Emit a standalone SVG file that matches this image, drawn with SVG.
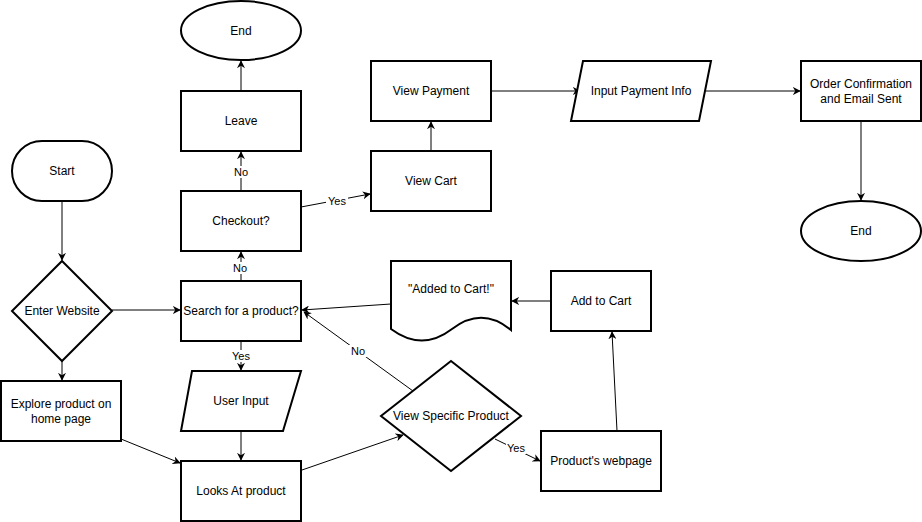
<svg xmlns="http://www.w3.org/2000/svg" width="922" height="522" viewBox="0 0 922 522">
<defs>
<style>
.n{fill:#fff;stroke:#000;stroke-width:2}
.t{font-family:"Liberation Sans",Arial,sans-serif;font-size:12px;fill:#000;text-anchor:middle;dominant-baseline:central}
.e{fill:none;stroke:#000;stroke-width:1;marker-end:url(#a)}
.lb{font-family:"Liberation Sans",Arial,sans-serif;font-size:11px;fill:#000;text-anchor:middle;dominant-baseline:central}
.bg{fill:#fff}
</style>
<marker id="a" viewBox="0 0 10 10" refX="9" refY="5" markerWidth="8" markerHeight="8" markerUnits="userSpaceOnUse" orient="auto">
<path d="M0,0 L10,5 L0,10 L3,5 Z" fill="#000"/>
</marker>
</defs>
<rect width="922" height="522" fill="#fff"/>
<g id="connectors">
<path class="e" d="M62,201 V260"/>
<path class="e" d="M112,310 H180"/>
<path class="e" d="M62,361 V380"/>
<path class="e" d="M121,439 L180,463"/>
<path class="e" d="M241,281 V252"/>
<path class="e" d="M241,191 V152"/>
<path class="e" d="M241,91 V61"/>
<path class="e" d="M301,207 L370,194"/>
<path class="e" d="M431,151 V122"/>
<path class="e" d="M491,91 H580"/>
<path class="e" d="M706,91 H800"/>
<path class="e" d="M861,121 V200"/>
<path class="e" d="M241,341 V370"/>
<path class="e" d="M241,431 V460"/>
<path class="e" d="M302,470 L403,435"/>
<path class="e" d="M495,439 L540,461"/>
<path class="e" d="M617,431 L612,332"/>
<path class="e" d="M551,301 H512"/>
<path class="e" d="M391,304 L302,310"/>
<path class="e" d="M413,391 L304,312"/>
<rect class="bg" x="232" y="262" width="18" height="12"/>
<text class="lb" x="240" y="268">No</text>
<rect class="bg" x="232" y="166" width="18" height="12"/>
<text class="lb" x="241" y="172">No</text>
<rect class="bg" x="326" y="195" width="22" height="12"/>
<text class="lb" x="337" y="201">Yes</text>
<rect class="bg" x="230" y="350" width="22" height="12"/>
<text class="lb" x="241" y="356">Yes</text>
<rect class="bg" x="349" y="345" width="18" height="12"/>
<text class="lb" x="358" y="351">No</text>
<rect class="bg" x="506" y="443" width="20" height="11"/>
<text class="lb" x="516" y="448">Yes</text>
</g>
<g id="end1"><ellipse class="n" cx="241" cy="30.5" rx="60" ry="29.5"/><text class="t" x="241" y="31">End</text></g>
<g id="leave"><rect class="n" x="181" y="91" width="120" height="60"/><text class="t" x="241" y="121">Leave</text></g>
<g id="checkout"><rect class="n" x="181" y="191" width="120" height="60"/><text class="t" x="241" y="221">Checkout?</text></g>
<g id="search"><rect class="n" x="181" y="281" width="120" height="60"/><text class="t" x="241" y="311">Search for a product?</text></g>
<g id="start"><rect class="n" x="12" y="141" width="100" height="60" rx="30" ry="30"/><text class="t" x="62" y="171">Start</text></g>
<g id="enter"><polygon class="n" points="62,261 112,311 62,361 12,311"/><text class="t" x="62" y="311">Enter Website</text></g>
<g id="explore"><rect class="n" x="1" y="381" width="120" height="60"/><text class="t" x="61" y="404">Explore product on</text><text class="t" x="61" y="419">home page</text></g>
<g id="userinput"><polygon class="n" points="192,371 301,371 283,431 181,431"/><text class="t" x="241" y="401">User Input</text></g>
<g id="looks"><rect class="n" x="181" y="461" width="120" height="60"/><text class="t" x="241" y="491">Looks At product</text></g>
<g id="viewspecific"><polygon class="n" points="451,361 521,416 451,471 381,416"/><text class="t" x="451" y="416">View Specific Product</text></g>
<g id="webpage"><rect class="n" x="541" y="431" width="120" height="60"/><text class="t" x="601" y="461">Product's webpage</text></g>
<g id="addtocart"><rect class="n" x="551" y="271" width="100" height="60"/><text class="t" x="601" y="301">Add to Cart</text></g>
<g id="added"><path class="n" d="M391,261 H511 V330 Q482,306 452,329 Q422,352 391,329 Z"/><text class="t" x="451" y="289">"Added to Cart!"</text></g>
<g id="viewcart"><rect class="n" x="371" y="151" width="120" height="60"/><text class="t" x="431" y="181">View Cart</text></g>
<g id="viewpayment"><rect class="n" x="371" y="61" width="120" height="60"/><text class="t" x="431" y="91">View Payment</text></g>
<g id="inputpayment"><polygon class="n" points="583,61 711,61 699,121 571,121"/><text class="t" x="641" y="91">Input Payment Info</text></g>
<g id="order"><rect class="n" x="801" y="61" width="120" height="60"/><text class="t" x="861" y="84">Order Confirmation</text><text class="t" x="861" y="99">and Email Sent</text></g>
<g id="end2"><ellipse class="n" cx="861" cy="231" rx="60" ry="30"/><text class="t" x="861" y="231">End</text></g>
</svg>
